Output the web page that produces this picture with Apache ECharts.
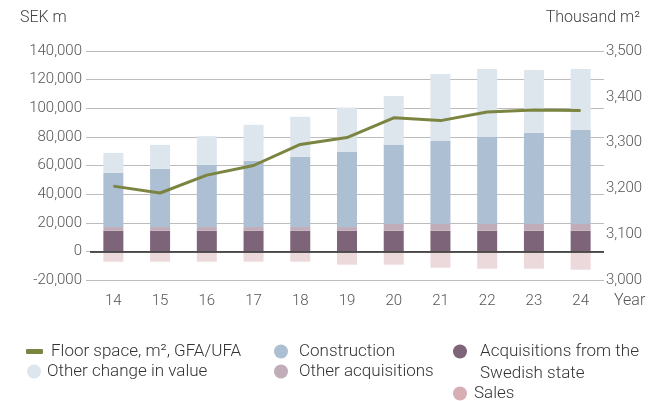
<!DOCTYPE html>
<html>
<head>
<meta charset="utf-8">
<script src="https://cdn.jsdelivr.net/npm/echarts@6/dist/echarts.min.js"></script>
<style>
  html, body { margin: 0; padding: 0; background: #fff; }
  #chart { width: 650px; height: 401px; }
</style>
</head>
<body>
<div id="chart"></div>
<script>
// years on the x axis
const years = ['14', '15', '16', '17', '18', '19', '20', '21', '22', '23', '24']

// SEK m, stacked bars
const acqState = [14400, 14400, 14400, 14400, 14400, 14400, 14400, 14400, 14400, 14400, 14400]
const otherAcq = [2600, 2600, 2600, 2600, 2600, 2600, 4900, 4900, 4900, 4900, 4900]
const construction = [37900, 40700, 43500, 46300, 49000, 52500, 55100, 57900, 60700, 63500, 65600]
const otherChange = [13900, 16700, 20000, 25100, 28000, 31000, 34200, 46800, 47400, 43900, 42500]
const sales = [-7200, -7200, -7200, -7200, -7200, -9300, -9300, -11400, -12100, -12100, -12800]

// thousand m2, right axis
const floorSpace = [3205, 3190, 3229, 3250, 3296, 3311, 3354, 3348, 3367, 3371, 3370]

const font = 'Roboto, "Liberation Sans", sans-serif'
const tickStyle = { fontFamily: font, fontSize: 15, fontWeight: 300, color: '#555' }
const legendText = { fontFamily: font, fontSize: 17, fontWeight: 300, color: '#333' }

const colors = {
  line: '#7b8440',
  construction: '#adbfd2',
  otherChange: '#dde5ed',
  acqState: '#7e6478',
  otherAcq: '#c0adb9',
  sales: '#ecd9dc',
  salesIcon: '#d6aeb4'
}

// one legend per item so they can sit where the original has them
const legendAt = (name, left, top, gap, extra) => Object.assign({
  data: [name],
  left: left,
  top: top,
  orient: 'vertical',
  itemWidth: 14,
  itemHeight: 14,
  icon: 'circle',
  selectedMode: false,
  textStyle: { ...legendText, padding: [0, 0, 0, gap] },
  padding: 0
}, extra || {})

const myChart = echarts.init(document.getElementById('chart'))

const bar = (name, data, color) => ({
  name: name,
  type: 'bar',
  stack: 'total',
  barWidth: 20,
  data: data,
  itemStyle: { color: color },
  emphasis: { disabled: true }
})

myChart.setOption({
  animation: false,
  grid: { left: 90, right: 46, top: 51, bottom: 121 },
  graphic: [
    { type: 'text', left: 20, top: 10, style: { text: 'SEK m', ...legendText, fontSize: 16, fill: '#444' } },
    { type: 'text', right: 10, top: 10, style: { text: 'Thousand m²', ...legendText, fontSize: 16, fill: '#444' } },
    { type: 'text', left: 614, top: 293, style: { text: 'Year', ...tickStyle, fontSize: 16, fill: '#555' } },
    { type: 'text', left: 480, top: 365, style: { text: 'Swedish state', ...legendText, fill: '#333' } }
  ],
  legend: [
    legendAt('Floor space, m², GFA/UFA', 26, 343, 3, { icon: 'roundRect', itemWidth: 17, itemHeight: 5 }),
    legendAt('Other change in value', 27, 363, 1),
    legendAt('Construction', 274, 343, 6),
    legendAt('Other acquisitions', 274, 363, 6),
    legendAt('Acquisitions from the', 453, 343, 8),
    legendAt('Sales', 453, 385, 2, { data: [{ name: 'Sales', itemStyle: { color: colors.salesIcon } }] })
  ],
  xAxis: {
    type: 'category',
    data: years,
    axisLine: { show: false, onZero: false },
    axisTick: { show: false },
    axisLabel: { ...tickStyle, margin: 14 }
  },
  yAxis: [
    {
      type: 'value',
      min: -20000,
      max: 140000,
      interval: 20000,
      axisLine: { show: false },
      axisTick: { show: true, length: 4, lineStyle: { color: '#bcbcbc' } },
      axisLabel: {
        ...tickStyle,
        margin: 8,
        formatter: v => v.toLocaleString('en-US')
      },
      splitLine: { lineStyle: { color: '#bcbcbc', width: 1.2 } }
    },
    {
      type: 'value',
      min: 3000,
      max: 3500,
      interval: 100,
      position: 'right',
      axisLine: { show: false },
      axisTick: { show: false },
      splitLine: { show: false },
      axisLabel: {
        ...tickStyle,
        margin: 2,
        formatter: v => v.toLocaleString('en-US')
      }
    }
  ],
  series: [
    bar('Acquisitions from the', acqState, colors.acqState),
    bar('Other acquisitions', otherAcq, colors.otherAcq),
    bar('Construction', construction, colors.construction),
    bar('Other change in value', otherChange, colors.otherChange),
    Object.assign(bar('Sales', sales, colors.sales), {
      markLine: {
        silent: true,
        symbol: 'none',
        label: { show: false },
        lineStyle: { color: '#222', type: 'solid', width: 1.5 },
        data: [{ yAxis: 0 }]
      }
    }),
    {
      name: 'Floor space, m², GFA/UFA',
      type: 'line',
      yAxisIndex: 1,
      data: floorSpace,
      showSymbol: false,
      lineStyle: { color: colors.line, width: 3 },
      itemStyle: { color: colors.line },
      emphasis: { disabled: true },
      z: 5
    }
  ]
})
</script>
</body>
</html>
